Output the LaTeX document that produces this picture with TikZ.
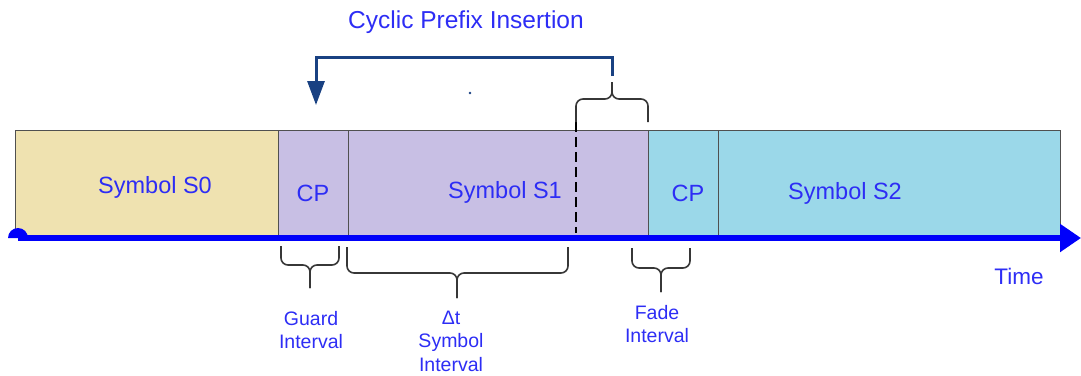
\documentclass[tikz,border=0pt]{standalone}
\usepackage{fontspec}
\setmainfont{Liberation Sans}
\usetikzlibrary{arrows.meta}

\definecolor{txtblue}{RGB}{45,45,245}
\definecolor{axisblue}{RGB}{0,0,250}
\definecolor{navy}{RGB}{25,65,130}
\definecolor{tanfill}{RGB}{239,226,176}
\definecolor{lilac}{RGB}{200,191,228}
\definecolor{skyfill}{RGB}{155,216,233}
\definecolor{edge}{RGB}{80,80,80}
\definecolor{bracegray}{RGB}{55,55,55}

% curly brace: ends at (x1,yend),(x2,yend), flat part at ymid, tip at (xtip,ytip)
\newcommand{\cbrace}[6]{%
  \draw[bracestroke] (#1,#3) -- (#1,#4) -- (#5,#4) -- (#5,#6);
  \draw[bracestroke] (#2,#3) -- (#2,#4) -- (#5,#4) -- (#5,#6);
}

\begin{document}
\begin{tikzpicture}[x=1pt,y=-1pt,
  slot/.style={draw=edge, line width=1.4pt, anchor=north west, inner sep=0pt, minimum height=105pt},
  boxtext/.style={text=txtblue, font=\fontsize{23.5}{26}\selectfont, inner sep=0pt},
  lbl/.style={text=txtblue, font=\fontsize{19.5}{23.5}\selectfont, align=center, inner sep=0pt},
  bracestroke/.style={draw=bracegray, line width=1.6pt, rounded corners=7pt},
  timeaxis/.style={draw=axisblue, line width=6pt, -{Triangle[length=21pt,width=27pt]}},
  cparrow/.style={draw=navy, line width=3pt, -{Triangle[length=24pt,width=17pt]}}]
\useasboundingbox (0,0) rectangle (1081,375);

% symbol slots
\node[slot, fill=tanfill, minimum width=263pt] (s0) at (15,130) {};
\node[slot, fill=lilac, minimum width=70pt] (cp1) at (278,130) {};
\node[slot, fill=lilac, minimum width=300pt] (s1) at (348,130) {};
\node[slot, fill=skyfill, minimum width=70pt] (cp2) at (648,130) {};
\node[slot, fill=skyfill, minimum width=342pt] (s2) at (718,130) {};

% slot captions
\node[boxtext] (ts0) at (155,187) {Symbol S0};
\node[boxtext] (tcp1) at (313,193) {CP};
\node[boxtext] (ts1) at (505,192) {Symbol S1};
\node[boxtext] (tcp2) at (688,193) {CP};
\node[boxtext] (ts2) at (845,193) {Symbol S2};

% start of the copied tail inside S1
\coordinate (tailtop) at (576,122);
\coordinate (tailbot) at (576,233);
\draw[black, line width=1.5pt, dash pattern=on 10pt off 5pt] (tailtop) -- (tailbot);

% time axis
\coordinate (t0) at (18,238);
\coordinate (t1) at (1081,238);
\fill[axisblue] (8,238) arc (180:360:10) -- cycle;
\draw[timeaxis] (t0) -- (t1);
\node[lbl, font=\fontsize{22.5}{26}\selectfont] (time) at (1019,276) {Time};

% brace over the copied tail and the insertion arrow
\cbrace{576}{648}{122}{99}{612}{82}
\coordinate (cpsrc) at (612,76);
\coordinate (cpdst) at (316,105);
\draw[cparrow] (cpsrc) -- ++(0,-19) -| (cpdst);
\fill[navy] (470,93) circle (1.3pt);
\node[text=txtblue, font=\fontsize{24.5}{28}\selectfont, inner sep=0pt] (title) at (466,22) {Cyclic Prefix Insertion};

% interval braces below the axis
\cbrace{281}{339}{246}{265}{310}{288}
\cbrace{347}{568}{247}{273}{457}{298}
\cbrace{632}{690}{248}{268}{661}{292}

\node[lbl] (guard) at (311,330) {Guard\\Interval};
\node[lbl] (symint) at (451,341) {Δt\\Symbol\\Interval};
\node[lbl] (fade) at (657,324) {Fade\\Interval};
\end{tikzpicture}
\end{document}
